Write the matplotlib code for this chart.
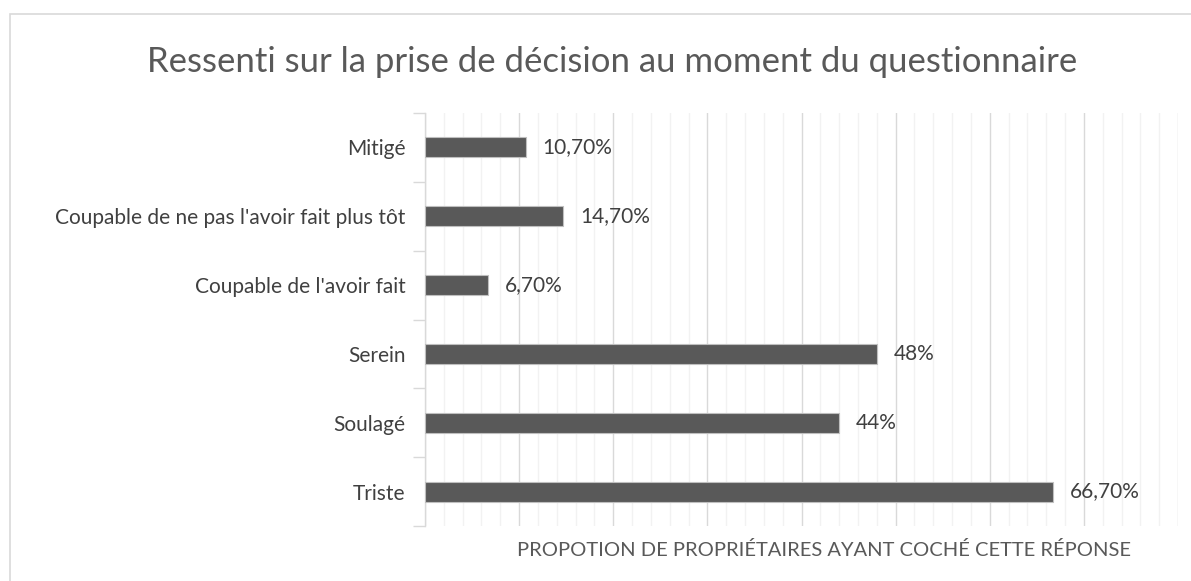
import matplotlib.pyplot as plt
from matplotlib.patches import Rectangle
from matplotlib.ticker import MultipleLocator, NullFormatter, FixedLocator

plt.rcParams['font.family'] = ['Lato', 'DejaVu Sans']

categories = ['Triste', 'Soulagé', 'Serein', "Coupable de l'avoir fait",
              "Coupable de ne pas l'avoir fait plus tôt", 'Mitigé']
values = [66.7, 44, 48, 6.7, 14.7, 10.7]
value_labels = ['66,70%', '44%', '48%', '6,70%', '14,70%', '10,70%']

title = 'Ressenti sur la prise de décision au moment du questionnaire'
xlabel = 'PROPOTION DE PROPRIÉTAIRES AYANT COCHÉ CETTE RÉPONSE'

W, H = 1191, 581
fig = plt.figure(figsize=(W / 100, H / 100), dpi=100)

# chart frame, only top and left edges visible in the crop
fig.patches.append(Rectangle((10 / W, -0.1), 1.2, (H - 14) / H + 0.1,
                             transform=fig.transFigure, fill=False,
                             edgecolor='#d9d9d9', linewidth=1.2))

ax = fig.add_axes([425 / W, 55 / H, (1178 - 425) / W, (526 - 113) / H])

y = range(len(categories))
ax.barh(y, values, height=0.29, color='#595959', edgecolor='#bfbfbf',
        linewidth=0.8, zorder=3)

for yi, v, lab in zip(y, values, value_labels):
    ax.text(v + 1.8, yi, lab, va='center', ha='left', fontsize=15,
            color='#404040')

ax.set_xlim(0, 80)
ax.set_ylim(-0.5, len(categories) - 0.5)

ax.xaxis.set_major_locator(MultipleLocator(10))
ax.xaxis.set_minor_locator(MultipleLocator(2))
ax.xaxis.set_major_formatter(NullFormatter())
ax.tick_params(axis='x', which='both', length=0)
ax.grid(axis='x', which='major', color='#d9d9d9', linewidth=1.0, zorder=0)
ax.grid(axis='x', which='minor', color='#f2f2f2', linewidth=1.0, zorder=0)

ax.set_yticks(list(y))
ax.set_yticklabels(categories, fontsize=15, color='#404040')
ax.yaxis.set_minor_locator(FixedLocator([i - 0.5 for i in range(len(categories) + 1)]))
ax.tick_params(axis='y', which='major', length=0, pad=14)
ax.tick_params(axis='y', which='minor', length=9, color='#d9d9d9', width=1.0)

for s in ['top', 'right', 'bottom']:
    ax.spines[s].set_visible(False)
ax.spines['left'].set_color('#d9d9d9')
ax.spines['left'].set_linewidth(1.0)

fig.text(612 / W, 1 - 62 / H, title, ha='center', va='center',
         fontsize=25, color='#595959')
fig.text(824 / W, 1 - 550 / H, xlabel, ha='center', va='center',
         fontsize=14.5, color='#595959')

fig.savefig('out.png', dpi=100)
